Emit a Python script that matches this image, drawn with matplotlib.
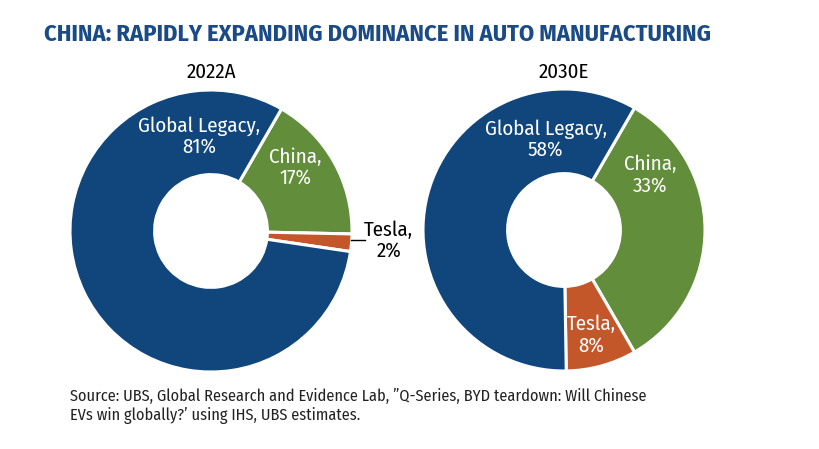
import matplotlib
matplotlib.use("Agg")
import matplotlib.pyplot as plt

plt.rcParams['font.family'] = ['Fira Sans Condensed', 'Open Sans', 'DejaVu Sans']

# data
segments = ["China", "Tesla", "Global Legacy"]
share_2022 = [17, 2, 81]
share_2030 = [33, 8, 58]
years = ["2022A", "2030E"]

colors = ["#628E3B", "#C4572A", "#10467C"]
title = "CHINA: RAPIDLY EXPANDING DOMINANCE IN AUTO MANUFACTURING"
source = ("Source: UBS, Global Research and Evidence Lab, \u201dQ-Series, BYD teardown: Will Chinese\n"
          "EVs win globally?\u2019 using IHS, UBS estimates.")

W, H = 820, 449
fig = plt.figure(figsize=(W / 100, H / 100), dpi=100)

R = 141.0   # donut radius in px
half = 150.0


def donut_axes(cx, cy):
    ax = fig.add_axes([(cx - half) / W, (H - cy - half) / H, 2 * half / W, 2 * half / H])
    ax.axis('off')
    return ax


# label positions (relative to donut radius)
pos_2022 = [(0.60, 0.45), (1.26, -0.07), (-0.085, 0.67)]
pos_2030 = [(0.61, 0.39), (0.19, -0.745), (-0.13, 0.64)]

for (cx, cy), vals, pos, year in [((211, 231), share_2022, pos_2022, years[0]),
                                  ((564, 230), share_2030, pos_2030, years[1])]:
    ax = donut_axes(cx, cy)
    ax.pie(vals, colors=colors, startangle=60, counterclock=False, radius=1,
           wedgeprops=dict(width=0.6, edgecolor='white', linewidth=2.2))
    lim = half / R
    ax.set_xlim(-lim, lim)
    ax.set_ylim(-lim, lim)
    ax.set_aspect('equal')
    for name, v, (x, y) in zip(segments, vals, pos):
        outside = (v < 5)
        col = 'black' if outside else 'white'
        ax.text(x, y, f"{name},\n{v}%", ha='center', va='center', color=col,
                fontsize=15, linespacing=1.1, clip_on=False)
        if outside:
            ax.plot([0.99, 1.09], [y + 0.005, y + 0.005], color='black', lw=1, clip_on=False)
    fig.text(cx / W, 1 - 72 / H, year, ha='center', va='center', fontsize=15, color='black')

fig.text(44 / W, 1 - 34 / H, title, ha='left', va='center', fontsize=17.5,
         fontweight='bold', color='#1A4B86')
fig.text(70 / W, 1 - 406 / H, source, ha='left', va='center', fontsize=11.7,
         color='#222222', linespacing=1.25)

fig.savefig("out.png", dpi=100, facecolor='white')
